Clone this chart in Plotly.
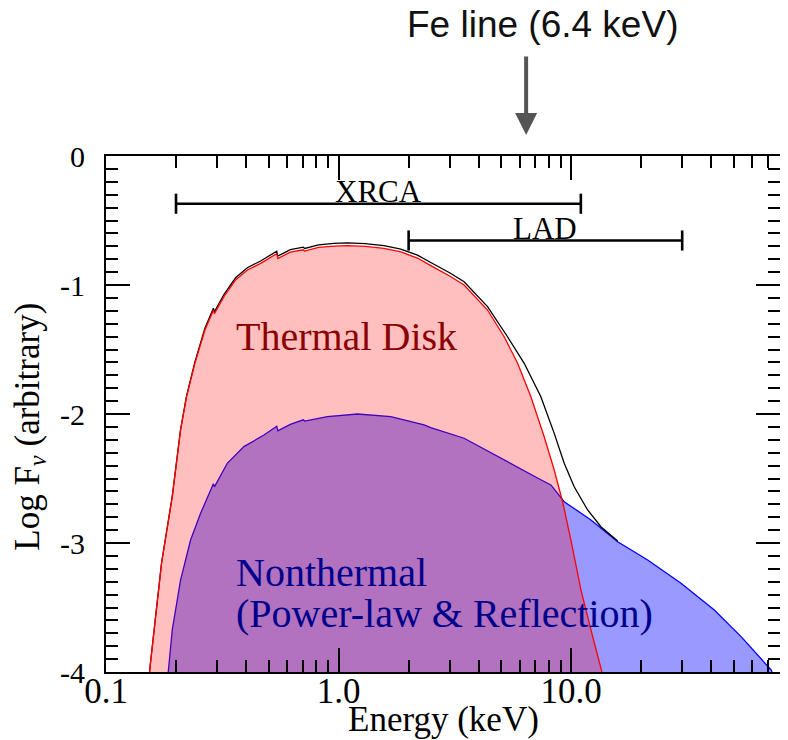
import math
import plotly.graph_objects as go

# ---------------- data ----------------
E_thermal = [0.1539, 0.1553, 0.1733, 0.1927, 0.2092, 0.2220, 0.2410, 0.2662, 0.2895, 0.2925,
             0.3213, 0.3607, 0.4051, 0.4623, 0.5420, 0.5480, 0.6200, 0.7050, 0.7150, 0.8200,
             0.9554, 1.091, 1.300, 1.568, 1.850, 2.183, 2.490, 3.000, 3.464, 4.368,
             5.148, 5.882, 6.709, 7.653, 8.451, 9.183, 9.970, 11.01, 12.16, 13.42, 13.55]
F_thermal = [-4.00, -3.93, -3.157, -2.641, -2.124, -1.866, -1.607, -1.349, -1.195, -1.222,
             -1.091, -0.961, -0.884, -0.832, -0.757, -0.795, -0.745, -0.727, -0.737, -0.709,
             -0.698, -0.695, -0.701, -0.716, -0.744, -0.791, -0.850, -0.930, -1.000, -1.194,
             -1.401, -1.607, -1.866, -2.176, -2.434, -2.680, -2.977, -3.364, -3.674, -3.984, -4.00]

E_nonthermal = [0.1852, 0.1927, 0.2092, 0.2310, 0.2551, 0.2895, 0.2925, 0.3322, 0.3916, 0.4775,
                0.5420, 0.5480, 0.6200, 0.7050, 0.7150, 0.8950, 1.205, 1.676, 2.331, 2.490,
                3.464, 4.825, 6.493, 7.300, 8.178, 8.741, 9.331, 12.16, 15.84, 21.32,
                29.65, 41.24, 53.74, 72.33, 73.0]
F_nonthermal = [-4.00, -3.674, -3.287, -2.977, -2.770, -2.540, -2.565, -2.382, -2.253, -2.163,
                -2.095, -2.130, -2.080, -2.045, -2.055, -2.021, -2.000, -2.021, -2.085, -2.105,
                -2.188, -2.331, -2.460, -2.504, -2.550, -2.615, -2.680, -2.822, -2.990, -3.132,
                -3.312, -3.519, -3.726, -3.984, -4.00]

E_total = [0.1539, 0.1553, 0.1733, 0.1927, 0.2092, 0.2220, 0.2410, 0.2662, 0.2895, 0.2925,
           0.3213, 0.3607, 0.4051, 0.4623, 0.5420, 0.5480, 0.6200, 0.7050, 0.7150, 0.8200,
           0.9554, 1.091, 1.300, 1.568, 1.850, 2.183, 2.490, 3.000, 3.464, 4.368,
           5.324, 6.279, 7.405, 8.451, 9.331, 10.30, 11.77, 13.42, 15.84]
F_total = [-4.00, -3.93, -3.155, -2.638, -2.120, -1.860, -1.598, -1.336, -1.180, -1.207,
           -1.074, -0.944, -0.866, -0.814, -0.738, -0.776, -0.726, -0.707, -0.717, -0.689,
           -0.677, -0.674, -0.680, -0.695, -0.722, -0.768, -0.826, -0.905, -0.975, -1.168,
           -1.401, -1.607, -1.866, -2.150, -2.382, -2.564, -2.744, -2.874, -2.985]

xrca_range = [0.2, 11.0]
xrca_level = -0.37
lad_range = [2.0, 30.0]
lad_level = -0.655
fe_line_energy = 6.4

x_tick_vals = [0.1, 1.0, 10.0]
x_tick_text = ["0.1", "1.0", "10.0"]
x_minor_vals = [0.2, 0.3, 0.4, 0.5, 0.6, 0.7, 0.8, 0.9, 2, 3, 4, 5, 6, 7, 8, 9,
                20, 30, 40, 50, 60, 70]
y_tick_vals = [-4, -3, -2, -1, 0]
y_tick_text = ["-4", "-3", "-2", "-1", "0"]

SERIF = "Liberation Serif"
SANS = "Liberation Sans"

fig = go.Figure()

# nonthermal (blue) fill
fig.add_trace(go.Scatter(x=E_nonthermal, y=F_nonthermal, mode="lines", fill="toself",
                         fillcolor="rgba(0,0,255,0.4)", line=dict(color="#0000ff", width=1.3),
                         hoverinfo="skip", showlegend=False))
# total (black), under the thermal line
fig.add_trace(go.Scatter(x=E_total, y=F_total, mode="lines",
                         line=dict(color="#000000", width=1.3),
                         hoverinfo="skip", showlegend=False))
# thermal (red) fill on top
fig.add_trace(go.Scatter(x=E_thermal, y=F_thermal, mode="lines", fill="toself",
                         fillcolor="rgba(255,0,0,0.25)", line=dict(color="#ff0000", width=1.3),
                         hoverinfo="skip", showlegend=False))

# instrument band bars
cap = 0.078
for (lo, hi), lvl in ((xrca_range, xrca_level), (lad_range, lad_level)):
    fig.add_trace(go.Scatter(
        x=[lo, hi, None, lo, lo, None, hi, hi],
        y=[lvl, lvl, None, lvl - cap, lvl + cap, None, lvl - cap, lvl + cap],
        mode="lines", line=dict(color="#000000", width=2.6),
        hoverinfo="skip", showlegend=False))

annotations = [
    dict(text="XRCA", x=math.log10(math.sqrt(xrca_range[0] * xrca_range[1])), y=xrca_level,
         xref="x", yref="y", showarrow=False, xanchor="center", yanchor="bottom", yshift=-7,
         font=dict(family=SERIF, size=31, color="#000000")),
    dict(text="LAD", x=math.log10(math.sqrt(lad_range[0] * lad_range[1])), y=lad_level,
         xref="x", yref="y", showarrow=False, xanchor="center", yanchor="bottom", yshift=-7,
         font=dict(family=SERIF, size=31, color="#000000")),
    dict(text="Thermal Disk", x=math.log10(0.3537), y=-1.40, xref="x", yref="y",
         showarrow=False, xanchor="left", yanchor="middle",
         font=dict(family=SERIF, size=40, color="#8b0000")),
    dict(text="Nonthermal", x=math.log10(0.3537), y=-3.225, xref="x", yref="y",
         showarrow=False, xanchor="left", yanchor="middle",
         font=dict(family=SERIF, size=40, color="#00008b")),
    dict(text="(Power-law &amp; Reflection)", x=math.log10(0.3537), y=-3.55, xref="x", yref="y",
         showarrow=False, xanchor="left", yanchor="middle",
         font=dict(family=SERIF, size=40, color="#00008b")),
    # Fe line arrow
    dict(text="", x=math.log10(fe_line_energy), y=1.0407, xref="x", yref="paper",
         showarrow=True, ax=0, ay=-80, arrowhead=2, arrowsize=1.1, arrowwidth=4,
         arrowcolor="#555555"),
    dict(text="Fe line (6.4 keV)", x=0.6476, y=1.2545, xref="paper", yref="paper",
         showarrow=False, xanchor="center", yanchor="middle",
         font=dict(family=SANS, size=37, color="#111111")),
    dict(text="Energy (keV)", x=0.5, y=-0.093, xref="paper", yref="paper",
         showarrow=False, xanchor="center", yanchor="middle",
         font=dict(family=SERIF, size=35, color="#000000")),
    dict(text="Log F<sub><i>ν</i></sub> (arbitrary)", x=-0.113, y=0.475, xref="paper", yref="paper",
         showarrow=False, xanchor="center", yanchor="middle", textangle=-90,
         font=dict(family=SERIF, size=35, color="#000000")),
]

# the page body adds an 8px offset; margins compensate so the plot area sits at
# x 106..780 and y 156..672 in the final picture
fig.update_layout(
    width=788, height=740,
    margin=dict(l=98, r=16, t=148, b=76, autoexpand=False),
    paper_bgcolor="white", plot_bgcolor="white",
    annotations=annotations,
    showlegend=False,
)

fig.update_xaxes(
    type="log", range=[-1, math.log10(79)], automargin=False,
    showgrid=False, zeroline=False,
    showline=True, linecolor="black", linewidth=2, mirror="ticks",
    ticks="inside", ticklen=24, tickwidth=1.5, tickcolor="black",
    tickvals=x_tick_vals, ticktext=x_tick_text,
    tickfont=dict(family=SERIF, size=35, color="black"),
    ticklabelstandoff=-13,
    minor=dict(ticks="inside", ticklen=12, tickwidth=1.5, tickcolor="black",
               tickvals=x_minor_vals, showgrid=False),
)
fig.update_yaxes(
    range=[-4, 0], automargin=False,
    showgrid=False, zeroline=False,
    showline=True, linecolor="black", linewidth=2, mirror="ticks",
    ticks="inside", ticklen=24, tickwidth=1.5, tickcolor="black",
    tickvals=y_tick_vals, ticktext=y_tick_text,
    tickfont=dict(family=SERIF, size=30, color="black"),
    ticklabelstandoff=13,
    minor=dict(ticks="inside", ticklen=12, tickwidth=1.5, tickcolor="black",
               dtick=0.1, tick0=0, showgrid=False),
)

fig.write_html("out.html")
